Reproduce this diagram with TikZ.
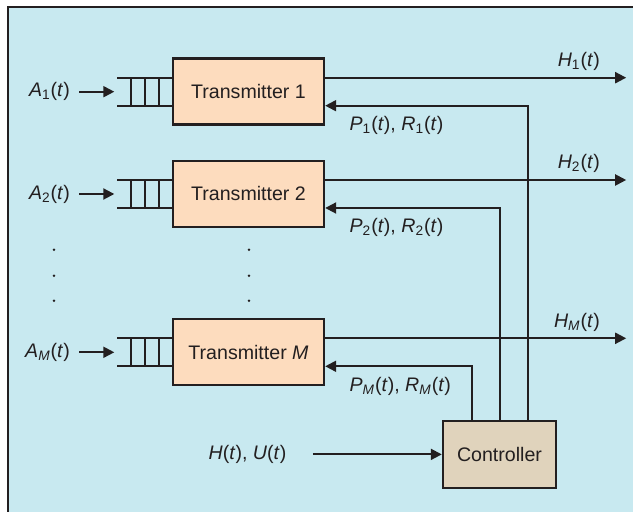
\documentclass[tikz,border=0pt]{standalone}
\usepackage{fontspec}
\setmainfont{Liberation Sans}
\usetikzlibrary{arrows.meta, positioning}

\definecolor{ink}{RGB}{35,31,32}
\definecolor{panelblue}{RGB}{200,233,240}
\definecolor{txfill}{RGB}{253,220,190}
\definecolor{ctrlfill}{RGB}{224,211,188}

\newcommand{\sig}[2]{\textit{#1}\textsubscript{#2}(\textit{t})}

\begin{document}
\begin{tikzpicture}[
  x=0.5pt, y=-0.5pt,
  every node/.style={font=\fontsize{9.8}{12}\selectfont, text=ink},
  txbox/.style={rectangle, draw=ink, line width=1.2pt, fill=txfill, inner sep=0pt,
    minimum width=75.5pt, minimum height=33pt},
  ctrlbox/.style={txbox, fill=ctrlfill, minimum width=56.5pt, minimum height=33.5pt},
  inlabel/.style={inner xsep=4.5pt},
  arrow/.style={-{Triangle[length=5.5pt,width=5.5pt]}, line width=1pt, draw=ink},
  wire/.style={line width=1pt, draw=ink}
]
\useasboundingbox (0,0) rectangle (633,512);

% Panel
\fill[panelblue] (8,7) rectangle (633,512);
\draw[ink, line width=1pt] (8,512) -- (8,7) -- (633,7);

% Boxes
\node[txbox] (tx1) at (248.5,91.7) {Transmitter 1};
\node[txbox] (tx2) at (248.5,194) {Transmitter 2};
\node[txbox] (txM) at (248.5,352.3) {Transmitter \textit{M}};
\node[ctrlbox] (ctrl) at (499.5,454.4) {Controller};

% Queues in front of the transmitters
\foreach \t in {tx1,tx2,txM} {
  \draw[wire] ([yshift=7pt]\t.west) -- ++(-54.5,0);
  \draw[wire] ([yshift=-7pt]\t.west) -- ++(-54.5,0);
  \foreach \dx in {12.5,26.5,40.5}
    \draw[wire] ([xshift=-\dx*0.5pt, yshift=7pt]\t.west) -- ++(0,28);
  \coordinate (q\t) at ([xshift=-27.25pt]\t.west);
}

% Arrivals
\node[inlabel, left=19pt of qtx1] (a1) {\sig{A}{1}};
\node[inlabel, left=19pt of qtx2] (a2) {\sig{A}{2}};
\node[inlabel, left=19pt of qtxM] (aM) {\sig{A}{\textit{M}}};
\draw[arrow, shorten >=1.5pt] (a1) -- (qtx1);
\draw[arrow, shorten >=1.5pt] (a2) -- (qtx2);
\draw[arrow, shorten >=1.5pt] (aM) -- (qtxM);

% Dots
\foreach \y in {249.7,275.7,300.7} {
  \fill[ink] (54,\y) circle (0.7pt);
  \fill[ink] (249,\y) circle (0.7pt);
}

% Outputs
\coordinate (out1) at ([xshift=150.5pt, yshift=7pt]tx1.east);
\coordinate (out2) at ([xshift=150.5pt, yshift=7pt]tx2.east);
\coordinate (outM) at ([xshift=150.5pt, yshift=7pt]txM.east);
\draw[arrow] ([yshift=7pt]tx1.east) -- (out1);
\draw[arrow] ([yshift=7pt]tx2.east) -- (out2);
\draw[arrow] ([yshift=7pt]txM.east) -- (outM);
\node[anchor=base east, inner sep=0pt] (h1) at ([xshift=-13pt, yshift=5.5pt]out1) {\sig{H}{1}};
\node[anchor=base east, inner sep=0pt] (h2) at ([xshift=-13pt, yshift=5.5pt]out2) {\sig{H}{2}};
\node[anchor=base east, inner sep=0pt] (hM) at ([xshift=-13pt, yshift=5.5pt]outM) {\sig{H}{\textit{M}}};

% Feedback from the controller
\draw[arrow] ([xshift=14pt]ctrl.north) |- ([yshift=-7pt]tx1.east);
\draw[arrow] (ctrl.north) |- ([yshift=-7pt]tx2.east);
\draw[arrow] ([xshift=-14pt]ctrl.north) |- ([yshift=-7pt]txM.east);
\node[anchor=base west, inner sep=0pt] (p1) at ([xshift=12pt, yshift=-19.2pt]tx1.east) {\sig{P}{1}, \sig{R}{1}};
\node[anchor=base west, inner sep=0pt] (p2) at ([xshift=12pt, yshift=-19.2pt]tx2.east) {\sig{P}{2}, \sig{R}{2}};
\node[anchor=base west, inner sep=0pt] (pM) at ([xshift=12pt, yshift=-19.5pt]txM.east) {\sig{P}{\textit{M}}, \sig{R}{\textit{M}}};

% Controller input
\node[inner xsep=13pt, left=64.5pt of ctrl] (hu) {\textit{H}(\textit{t}), \textit{U}(\textit{t})};
\draw[arrow] (hu) -- (ctrl);

\end{tikzpicture}
\end{document}
